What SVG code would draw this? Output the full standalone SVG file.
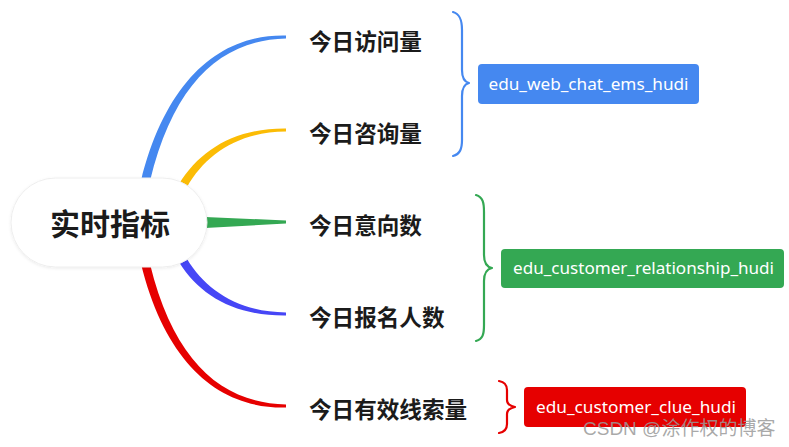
<svg xmlns="http://www.w3.org/2000/svg" width="789" height="447" viewBox="0 0 789 447">
<defs>
<style>
.topic{font-family:"Noto Sans CJK SC","Noto Sans",sans-serif;font-weight:700;fill:#1b1b1b;}
.sub{font-size:22.6px;}
.tag{font-family:"Noto Sans","Liberation Sans",sans-serif;font-size:16px;fill:#ffffff;text-anchor:middle;}
.brace{fill:none;stroke-width:2.2;stroke-linecap:round;stroke-linejoin:round;}
.wm{font-family:"Liberation Sans","Noto Sans CJK SC",sans-serif;font-size:19px;fill:#9a9a9a;fill-opacity:0.85;}
</style>
<filter id="sh" x="-10%" y="-20%" width="120%" height="140%">
<feDropShadow dx="0" dy="1" stdDeviation="1.5" flood-color="#000" flood-opacity="0.08"/>
</filter>
</defs>
<rect width="789" height="447" fill="#ffffff"/>
<g id="connectors">
<path d="M141,181 C166,80 220,34 286,35.5 L286,38.5 C222,40 174,82 150,181 Z" fill="#4588f0"/>
<path d="M179,184 C200,150 235,128 286,128.5 L286,131.5 C238,132 206,154 187,187 Z" fill="#fbbc05"/>
<path d="M205,217 L286,220.5 L286,223.5 L205,228 Z" fill="#34a853"/>
<path d="M179,262 C200,296 235,316 286,315.5 L286,312.5 C238,312 206,290 187,259 Z" fill="#4646f6"/>
<path d="M141,264 C166,365 220,409 286,407.5 L286,404.5 C222,403 174,362 150,264 Z" fill="#e60000"/>
<path class="brace" stroke="#4588f0" d="M453,12 C460,14 462,20 462,30 L462,70 C462,78 465,82 469,83 C465,84 462,88 462,96 L462,140 C462,149 460,154 453,156"/>
<path class="brace" stroke="#34a853" d="M476,195 C483,197 484,203 484,212 L484,255 C484,263 487,267 492,268 C487,269 484,273 484,281 L484,325 C484,334 483,339 476,341"/>
<path class="brace" stroke="#e60000" d="M499,381 C505,382 507,385 507,390 L507,400 C507,404 510,406 515,407 C510,408 507,410 507,414 L507,424 C507,429 505,432 499,433"/>
</g>
<g id="root">
<rect x="11" y="178" width="196" height="89" rx="44.5" fill="#ffffff" stroke="#eeeeee" stroke-width="1" filter="url(#sh)"/>
<text class="topic" x="110" y="235" font-size="30" text-anchor="middle">实时指标</text>
</g>
<g id="n1"><text class="topic sub" x="309" y="49.5">今日访问量</text></g>
<g id="n2"><text class="topic sub" x="309" y="141.5">今日咨询量</text></g>
<g id="n3"><text class="topic sub" x="309" y="233.5">今日意向数</text></g>
<g id="n4"><text class="topic sub" x="309" y="325.5">今日报名人数</text></g>
<g id="n5"><text class="topic sub" x="309" y="417.5">今日有效线索量</text></g>
<g id="t1">
<rect x="478" y="64" width="221" height="40" rx="4" fill="#4588f0"/>
<text class="tag" x="588.5" y="89.5" textLength="200" lengthAdjust="spacingAndGlyphs">edu_web_chat_ems_hudi</text>
</g>
<g id="t2">
<rect x="501" y="249" width="283" height="39" rx="4" fill="#34a853"/>
<text class="tag" x="643.5" y="274" textLength="261" lengthAdjust="spacingAndGlyphs">edu_customer_relationship_hudi</text>
</g>
<g id="t3">
<rect x="524" y="387" width="222" height="40" rx="4" fill="#e60000"/>
<text class="tag" x="636" y="412.5" textLength="200" lengthAdjust="spacingAndGlyphs">edu_customer_clue_hudi</text>
</g>
<text class="wm" x="583" y="435">CSDN @涂作权的博客</text>
</svg>
